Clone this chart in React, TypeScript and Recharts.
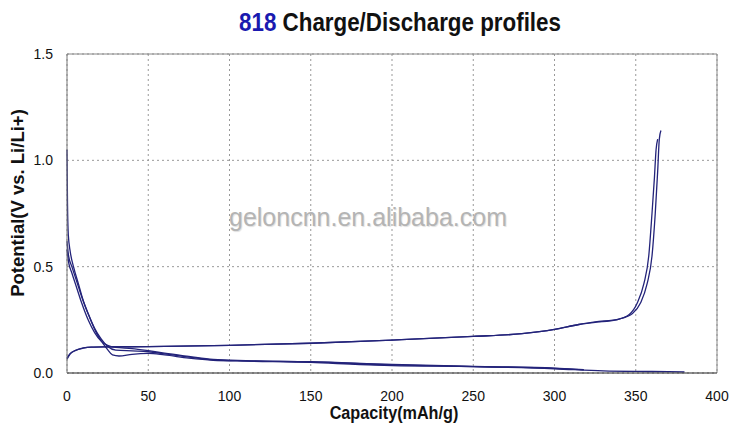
import React from 'react';
import { LineChart, Line, XAxis, YAxis, CartesianGrid, ReferenceLine, Label } from 'recharts';

// capacity (mAh/g) and potential (V)
const charge1Cap = [0, 2, 5, 10, 15, 25, 50, 100, 150, 200, 250, 280, 300, 315, 325, 340, 348, 353, 357, 360, 362, 363.5, 364.5, 365.5];
const charge1V = [0.065, 0.09, 0.105, 0.117, 0.122, 0.123, 0.124, 0.13, 0.14, 0.155, 0.172, 0.185, 0.205, 0.228, 0.24, 0.255, 0.28, 0.33, 0.42, 0.55, 0.75, 0.95, 1.1, 1.14];

const charge2Cap = [0, 2, 5, 10, 15, 25, 50, 100, 150, 200, 250, 280, 300, 315, 325, 338, 346, 351, 355, 358, 360, 361.5, 362.5, 363.5];
const charge2V = [0.07, 0.092, 0.106, 0.118, 0.122, 0.123, 0.124, 0.13, 0.14, 0.155, 0.172, 0.185, 0.205, 0.228, 0.238, 0.25, 0.275, 0.33, 0.42, 0.55, 0.75, 0.92, 1.05, 1.1];

const discharge1Cap = [0, 0.3, 0.8, 2, 4, 7, 10, 14, 18, 22, 25, 28, 32, 40, 50, 60, 75, 90, 110, 150, 180, 200, 250, 300, 330, 360, 380];
const discharge1V = [1.05, 0.8, 0.65, 0.57, 0.5, 0.42, 0.34, 0.26, 0.19, 0.14, 0.11, 0.085, 0.08, 0.088, 0.092, 0.085, 0.07, 0.06, 0.056, 0.05, 0.04, 0.035, 0.03, 0.02, 0.01, 0.007, 0.005];

const discharge2Cap = [0, 1, 3, 6, 9, 13, 17, 21, 25, 30, 40, 50, 60, 75, 90, 110, 150, 200, 250, 300, 318];
const discharge2V = [0.62, 0.55, 0.5, 0.43, 0.36, 0.28, 0.21, 0.16, 0.125, 0.108, 0.104, 0.1, 0.09, 0.075, 0.062, 0.057, 0.052, 0.038, 0.03, 0.022, 0.015];

const discharge3Cap = [0, 1, 3, 6, 9, 13, 17, 21, 25, 30, 40, 50, 60, 75, 90, 110, 150, 200, 250, 300, 318];
const discharge3V = [0.58, 0.52, 0.47, 0.4, 0.33, 0.25, 0.19, 0.15, 0.13, 0.12, 0.115, 0.105, 0.093, 0.078, 0.064, 0.058, 0.053, 0.04, 0.031, 0.023, 0.016];

const xTicks = [0, 50, 100, 150, 200, 250, 300, 350, 400];
const yTicks = [0, 0.5, 1.0, 1.5];

const toPoints = (cap: number[], v: number[]) => cap.map((c, i) => ({ cap: c, v: v[i] }));

const series = [
  toPoints(charge1Cap, charge1V),
  toPoints(charge2Cap, charge2V),
  toPoints(discharge1Cap, discharge1V),
  toPoints(discharge2Cap, discharge2V),
  toPoints(discharge3Cap, discharge3V),
];

const sans = "'Liberation Sans', Arial, sans-serif";
const lineColor = '#23237a';

export default function App() {
  return (
    <div style={{ position: 'absolute', left: 0, top: 0, width: 733, height: 441, background: '#fff' }}>
      <div
        style={{
          position: 'absolute', left: 0, top: 7, width: 800, textAlign: 'center',
          fontFamily: sans, fontWeight: 'bold', fontSize: 26, color: '#111', lineHeight: '30px',
          transform: 'scaleX(0.86)', transformOrigin: '400px 0',
        }}
      >
        <span style={{ color: '#1a1ab0' }}>818</span> Charge/Discharge profiles
      </div>
      <div
        style={{
          position: 'absolute', left: 229, top: 203, fontFamily: sans,
          fontSize: 25, color: '#b4b4b4', textShadow: '1px 1px 1px #e0e0e0',
        }}
      >
        geloncnn.en.alibaba.com
      </div>
      <LineChart width={733} height={441} margin={{ top: 54, right: 16, left: 10, bottom: 28 }}>
        <CartesianGrid stroke="#999" strokeDasharray="2 3" />
        <XAxis
          dataKey="cap"
          type="number"
          domain={[0, 400]}
          ticks={xTicks}
          height={40}
          tickLine={false}
          tickSize={0}
          tickMargin={18}
          stroke="#222"
          tick={{ fontSize: 14, fill: '#111', fontFamily: sans }}
        >
          <Label
            content={() => (
              <text
                x={394}
                y={419}
                textAnchor="middle"
                transform="scale(0.9 1)"
                transform-origin="394 419"
                style={{ fontSize: 18, fill: '#111', fontFamily: sans, fontWeight: 'bold' }}
              >
                Capacity(mAh/g)
              </text>
            )}
          />
        </XAxis>
        <YAxis
          type="number"
          domain={[0, 1.5]}
          ticks={yTicks}
          width={57}
          tickLine={false}
          tickSize={0}
          tickMargin={14}
          stroke="#777"
          tickFormatter={(v: number) => v.toFixed(1)}
          tick={{ fontSize: 14, fill: '#111', fontFamily: sans }}
        >
          <Label
            content={() => (
              <text
                x={24}
                y={203}
                textAnchor="middle"
                transform="rotate(-90 24 203)"
                style={{ fontSize: 18.5, fill: '#111', fontFamily: sans, fontWeight: 'bold' }}
              >
                Potential(V vs. Li/Li+)
              </text>
            )}
          />
        </YAxis>
        <ReferenceLine y={1.5} stroke="#888" />
        <ReferenceLine x={400} stroke="#888" />
        {series.map((d, i) => (
          <Line
            key={i}
            data={d}
            dataKey="v"
            type="monotone"
            stroke={lineColor}
            strokeWidth={1.3}
            dot={false}
            isAnimationActive={false}
          />
        ))}
      </LineChart>
    </div>
  );
}
